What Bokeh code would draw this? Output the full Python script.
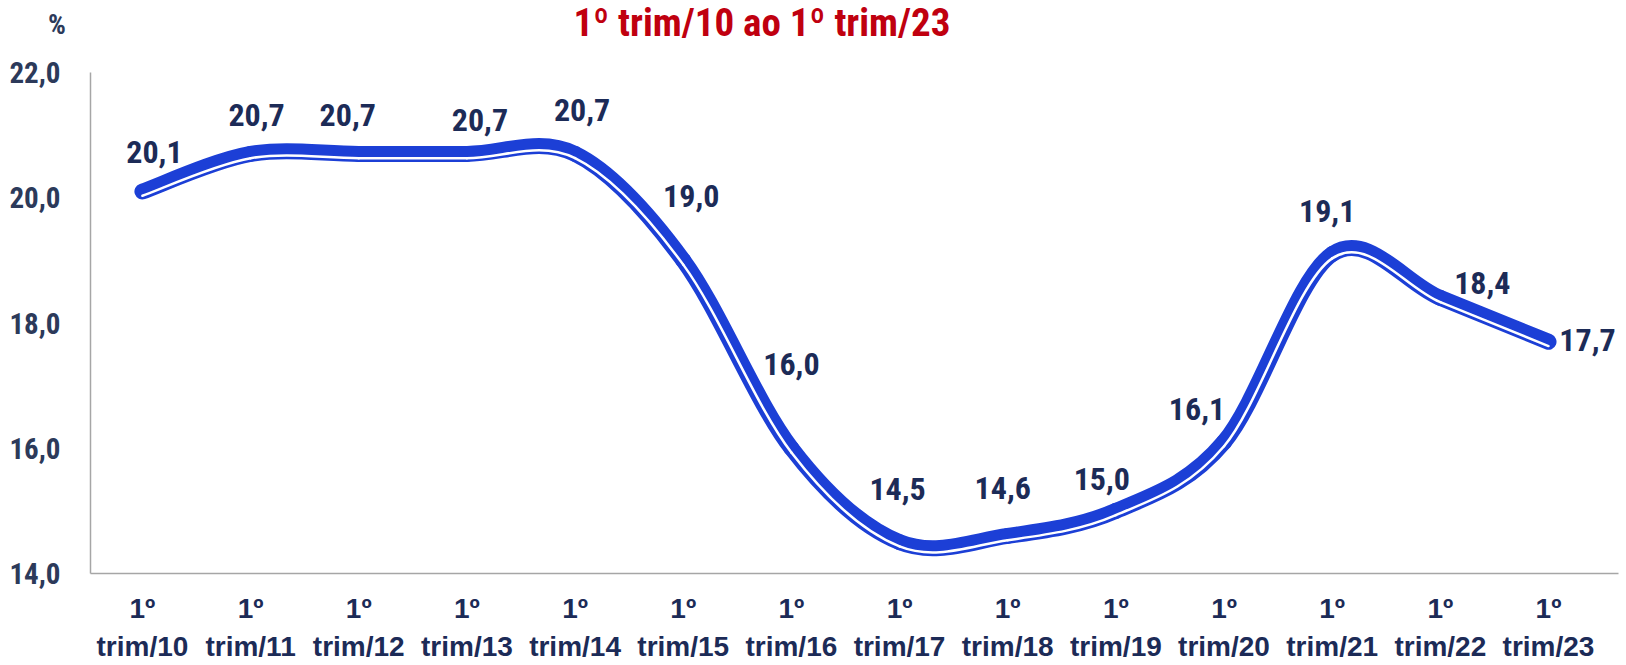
from bokeh.plotting import figure
from bokeh.models import ColumnDataSource, Range1d, FixedTicker, LabelSet, Div, LinearAxis
from bokeh.core.properties import value
from bokeh.layouts import column
from bokeh.embed import file_html
from bokeh.resources import INLINE

# ---- data ----
categories = ["1º\ntrim/10", "1º\ntrim/11", "1º\ntrim/12", "1º\ntrim/13", "1º\ntrim/14",
              "1º\ntrim/15", "1º\ntrim/16", "1º\ntrim/17", "1º\ntrim/18", "1º\ntrim/19",
              "1º\ntrim/20", "1º\ntrim/21", "1º\ntrim/22", "1º\ntrim/23"]
values = [20.1, 20.7, 20.7, 20.7, 20.7, 19.0, 16.0, 14.5, 14.6, 15.0, 16.1, 19.1, 18.4, 17.7]
value_labels = ["20,1", "20,7", "20,7", "20,7", "20,7", "19,0", "16,0", "14,5", "14,6",
                "15,0", "16,1", "19,1", "18,4", "17,7"]
y_ticks = [14, 16, 18, 20, 22]
y_tick_labels = ["14,0", "16,0", "18,0", "20,0", "22,0"]
title_text = "1º trim/10 ao 1º trim/23"
unit_text = "%"

# ---- styling (label offsets in screen px) ----
lab_dx = [12, 6, -11, 13, 7, 8, 0, -2, -5, -14, -27, -5, 42, 39]
lab_dy = [39, 39, 39, 34, 44, 64, 84, 53, 48, 32, 33, 43, 15, 2]

FONT = "Roboto Condensed"
XFONT = "Liberation Sans"
CSS_FONT = "'Roboto Condensed','Liberation Sans Narrow',sans-serif"
NAVY = "#1C2B57"
TICK = "#2C3A5A"
BLUE = "#1C3FD6"
RED = "#C0000F"
AXIS_GREY = "#A6A6A6"

n = len(values)
xs = list(range(n))
cat_line1 = [c.split("\n")[0] for c in categories]
cat_line2 = [c.split("\n")[1] for c in categories]

DIV_H = 48
p = figure(width=1626, height=665 - DIV_H, output_backend="svg", toolbar_location=None,
           x_axis_type=None,
           x_range=Range1d(-0.48, n - 1 + 0.647), y_range=Range1d(y_ticks[0], y_ticks[-1]),
           min_border_left=90, min_border_right=8, min_border_top=24, min_border_bottom=92)
p.outline_line_color = None
p.grid.visible = False

# smooth curve via cubic bezier segments (Catmull-Rom style control points)
x0, y0, x1, y1, cx0, cy0, cx1, cy1 = [], [], [], [], [], [], [], []
for i in range(n - 1):
    ip = max(i - 1, 0)
    inn = min(i + 2, n - 1)
    x0.append(xs[i]); y0.append(values[i])
    x1.append(xs[i + 1]); y1.append(values[i + 1])
    cx0.append(xs[i] + (xs[i + 1] - xs[ip]) / 6.0)
    cy0.append(values[i] + (values[i + 1] - values[ip]) / 6.0)
    cx1.append(xs[i + 1] - (xs[inn] - xs[i]) / 6.0)
    cy1.append(values[i + 1] - (values[inn] - values[i]) / 6.0)
seg = ColumnDataSource(dict(x0=x0, y0=y0, x1=x1, y1=y1, cx0=cx0, cy0=cy0, cx1=cx1, cy1=cy1))

p.bezier(x0="x0", y0="y0", x1="x1", y1="y1", cx0="cx0", cy0="cy0", cx1="cx1", cy1="cy1",
         source=seg, line_color=BLUE, line_width=16, line_cap="round", line_join="round")

# thin white inner stripe near the lower edge, drawn via a shifted range
shift = 0.068
p.extra_y_ranges = {"shifted": Range1d(y_ticks[0] + shift, y_ticks[-1] + shift)}
p.bezier(x0="x0", y0="y0", x1="x1", y1="y1", cx0="cx0", cy0="cy0", cx1="cx1", cy1="cy1",
         source=seg, line_color="white", line_width=2.5, line_cap="round",
         y_range_name="shifted")

# value labels
src = ColumnDataSource(dict(x=xs, y=values, t=value_labels, dx=lab_dx, dy=lab_dy))
labels = LabelSet(x="x", y="y", text="t", x_offset="dx", y_offset="dy", source=src,
                  text_font=value(FONT), text_font_style=value("bold"),
                  text_font_size=value("32px"), text_color=value(NAVY),
                  text_align=value("center"), text_baseline=value("middle"))
p.add_layout(labels)

# x axes: two stacked label rows ("1º" / "trim/xx")
def make_x_axis(texts, standoff, line_color):
    ax = LinearAxis(ticker=FixedTicker(ticks=xs),
                    major_label_overrides={i: t for i, t in zip(xs, texts)})
    ax.axis_line_color = line_color
    ax.axis_line_width = 1.5
    ax.major_tick_line_color = None
    ax.minor_tick_line_color = None
    ax.major_tick_out = 0
    ax.major_tick_in = 0
    ax.major_label_standoff = standoff
    ax.major_label_text_font = XFONT
    ax.major_label_text_font_style = "bold"
    ax.major_label_text_font_size = "28px"
    ax.major_label_text_color = NAVY
    return ax

p.add_layout(make_x_axis(cat_line1, 19, AXIS_GREY), "below")
p.add_layout(make_x_axis(cat_line2, 4, None), "below")

# y axis
p.yaxis.ticker = FixedTicker(ticks=y_ticks)
p.yaxis.major_label_overrides = {t: l for t, l in zip(y_ticks, y_tick_labels)}
p.yaxis.axis_line_color = AXIS_GREY
p.yaxis.axis_line_width = 1.5
p.yaxis.major_tick_line_color = None
p.yaxis.minor_tick_line_color = None
p.yaxis.major_tick_out = 0
p.yaxis.major_tick_in = 0
p.yaxis.major_label_text_font = FONT
p.yaxis.major_label_text_font_style = "bold"
p.yaxis.major_label_text_font_size = "29px"
p.yaxis.major_label_text_color = TICK
p.yaxis.major_label_standoff = 30

# title and unit (header above the plot)
header_html = (
    f'<div style="position:relative;width:1626px;height:{DIV_H}px;">'
    f'<span style="position:absolute;left:762px;top:0px;transform:translateX(-50%);'
    f'white-space:nowrap;font-family:{CSS_FONT};font-weight:bold;font-size:39px;'
    f'line-height:1.2;color:{RED};">{title_text}</span>'
    f'<span style="position:absolute;left:57px;top:8px;transform:translateX(-50%);'
    f'white-space:nowrap;font-family:{CSS_FONT};font-weight:bold;font-size:28px;'
    f'line-height:1.2;color:{TICK};">{unit_text}</span>'
    '</div>'
)
header = Div(text=header_html, width=1626, height=DIV_H, margin=0)

layout = column(header, p, spacing=0)
open("out.html", "w").write(file_html(layout, INLINE))
